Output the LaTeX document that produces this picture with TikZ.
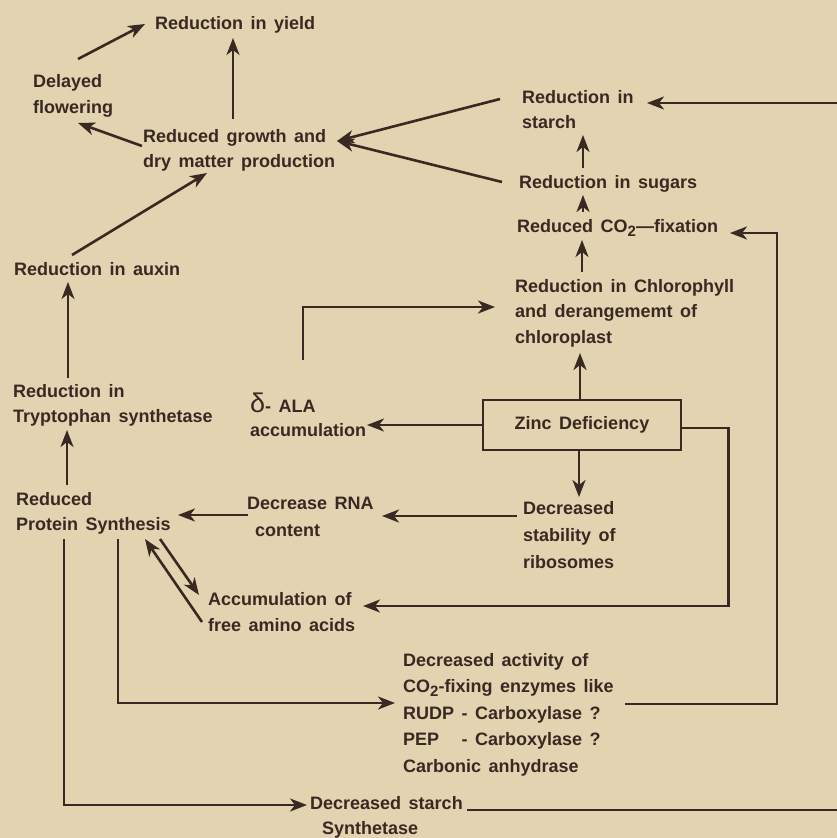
\documentclass[tikz,border=0pt]{standalone}
\usepackage{fontspec}
\setmainfont{Liberation Sans}[WordSpace=1.5]
\usetikzlibrary{arrows.meta,calc}
\definecolor{ink}{RGB}{58,40,34}
\definecolor{paper}{RGB}{226,212,176}
\newcommand\subtwo{\raisebox{-0.45ex}{\fontsize{15pt}{15pt}\selectfont 2}}
\newcommand\ml[1]{\vtop{\halign{##\hfil\cr#1\crcr}}}
\begin{document}
\begin{tikzpicture}[x=1pt,y=-1pt,
  lbl/.style={anchor=base west,inner sep=0pt,text=ink,font=\fontsize{18pt}{#1pt}\selectfont\bfseries},
  lbl/.default=25,
  arr/.style={draw=ink,line width=2.6pt,-{Stealth[length=17pt,width=13pt,inset=5pt]}},
]
\fill[paper] (0,0) rectangle (837,838);
\useasboundingbox (0,0) rectangle (837,838);
\clip (0,0) rectangle (837,838);

% nodes
\node[lbl] (yield) at (155,29) {Reduction in yield};
\node[lbl=26] (delayed) at (33,87) {\ml{Delayed\cr flowering}};
\node[lbl] (growth) at (143,142) {\ml{Reduced growth and\cr dry matter production}};
\node[lbl] (starch) at (522,103) {\ml{Reduction in\cr starch}};
\node[lbl] (sugars) at (519,188) {Reduction in sugars};
\node[lbl] (co2) at (517,232) {Reduced CO\subtwo{}—fixation};
\node[lbl=25.5] (chloro) at (515,292) {\ml{Reduction in Chlorophyll\cr and derangememt of\cr chloroplast}};
\node[draw=ink,line width=2.6pt,minimum width=198pt,minimum height=50pt,inner sep=0pt,text=ink,font=\fontsize{18pt}{25pt}\selectfont\bfseries] (zinc) at (582,425) {Zinc Deficiency};
\node[lbl=24] (ala) at (250,412) {\ml{{\fontsize{27pt}{27pt}\selectfont\mdseries δ}- ALA\cr accumulation}};
\node[lbl] (auxin) at (14,275) {Reduction in auxin};
\node[lbl] (trypto) at (13,397) {\ml{Reduction in\cr Tryptophan synthetase}};
\node[lbl] (protein) at (16,505) {\ml{Reduced\cr Protein Synthesis}};
\node[lbl=27] (rna) at (247,509) {\ml{Decrease RNA\cr \hspace*{8pt}content}};
\node[lbl=27] (stab) at (523,514) {\ml{Decreased\cr stability of\cr ribosomes}};
\node[lbl=26] (amino) at (208,605) {\ml{Accumulation of\cr free amino acids}};
\node[lbl=26.5] (enz) at (403,666) {\ml{Decreased activity of\cr CO\subtwo-fixing enzymes like\cr RUDP - Carboxylase ?\cr \makebox[51pt][l]{PEP} - Carboxylase ?\cr Carbonic anhydrase}};
\node[lbl] (ssyn) at (310,809) {\ml{Decreased starch\cr \hspace*{12pt}Synthetase}};

% connectors
\draw[arr] ($(delayed.base west)+(45,-28)$) -- ($(yield.base west)+(-10,-5)$);
\draw[arr] ($(growth.base west)+(90,-23)$) -- ($(yield.base west)+(78,9)$);
\draw[arr] ($(growth.base west)+(-1,4)$) -- ($(delayed.base west)+(45,36)$);
\draw[arr] ($(starch.base west)+(-22,-4)$) -- ($(growth.base west)+(194,-1)$);
\draw[arr] ($(sugars.base west)+(-17,-6)$) -- ($(growth.base west)+(194,-1)$);
\draw[arr] ($(auxin.base west)+(58,-20)$) -- ($(growth.base west)+(64,31)$);
\draw[arr] ($(sugars.base west)+(64,-20)$) -- ($(starch.base west)+(61,32)$);
\draw[arr] ($(co2.base west)+(66,-20)$) -- ($(sugars.base west)+(64,7)$);
\draw[arr] ($(chloro.base west)+(67,-20)$) -- ($(co2.base west)+(65,8)$);
\draw[arr] ($(zinc.north)+(-2,0)$) -- ($(chloro.base west)+(65,61)$);
\draw[arr] (zinc.west) -- ($(ala.base west)+(117,13)$);
\draw[arr] ($(zinc.south)+(-3,0)$) -- ($(stab.base west)+(56,-17)$);
\draw[arr] ($(zinc.east)+(0,3)$) -- ++(46,0) |- ($(amino.base west)+(155,1)$);
\draw[arr] ($(stab.base west)+(-6,2)$) -- ($(rna.base west)+(135,7)$);
\draw[arr] ($(rna.base west)+(1,6)$) -- ($(protein.base west)+(162,10)$);
\draw[arr] ($(protein.base west)+(51,-20)$) -- ($(trypto.base west)+(54,33)$);
\draw[arr] ($(trypto.base west)+(55,-19)$) -- ($(auxin.base west)+(54,7)$);
\draw[arr] ($(ala.base west)+(53,-52)$) |- ($(chloro.base west)+(-20,15)$);
\draw[arr] ($(protein.base west)+(144,34)$) -- ($(amino.base west)+(-9,-10)$);
\draw[arr] ($(amino.base west)+(-6,17)$) -- ($(protein.base west)+(129,34)$);
\draw[arr] ($(protein.base west)+(102,34)$) |- ($(enz.base west)+(-8,37)$);
\draw[arr] ($(protein.base west)+(48,34)$) |- ($(ssyn.base west)+(-3,-4)$);
\draw[arr] ($(enz.base west)+(222,38)$) -- ++(152,0) |- ($(co2.base west)+(213,1)$);
\draw[arr] ($(ssyn.base west)+(157,1)$) -- ++(393,0) |- ($(starch.base west)+(125,0)$);
\end{tikzpicture}
\end{document}
